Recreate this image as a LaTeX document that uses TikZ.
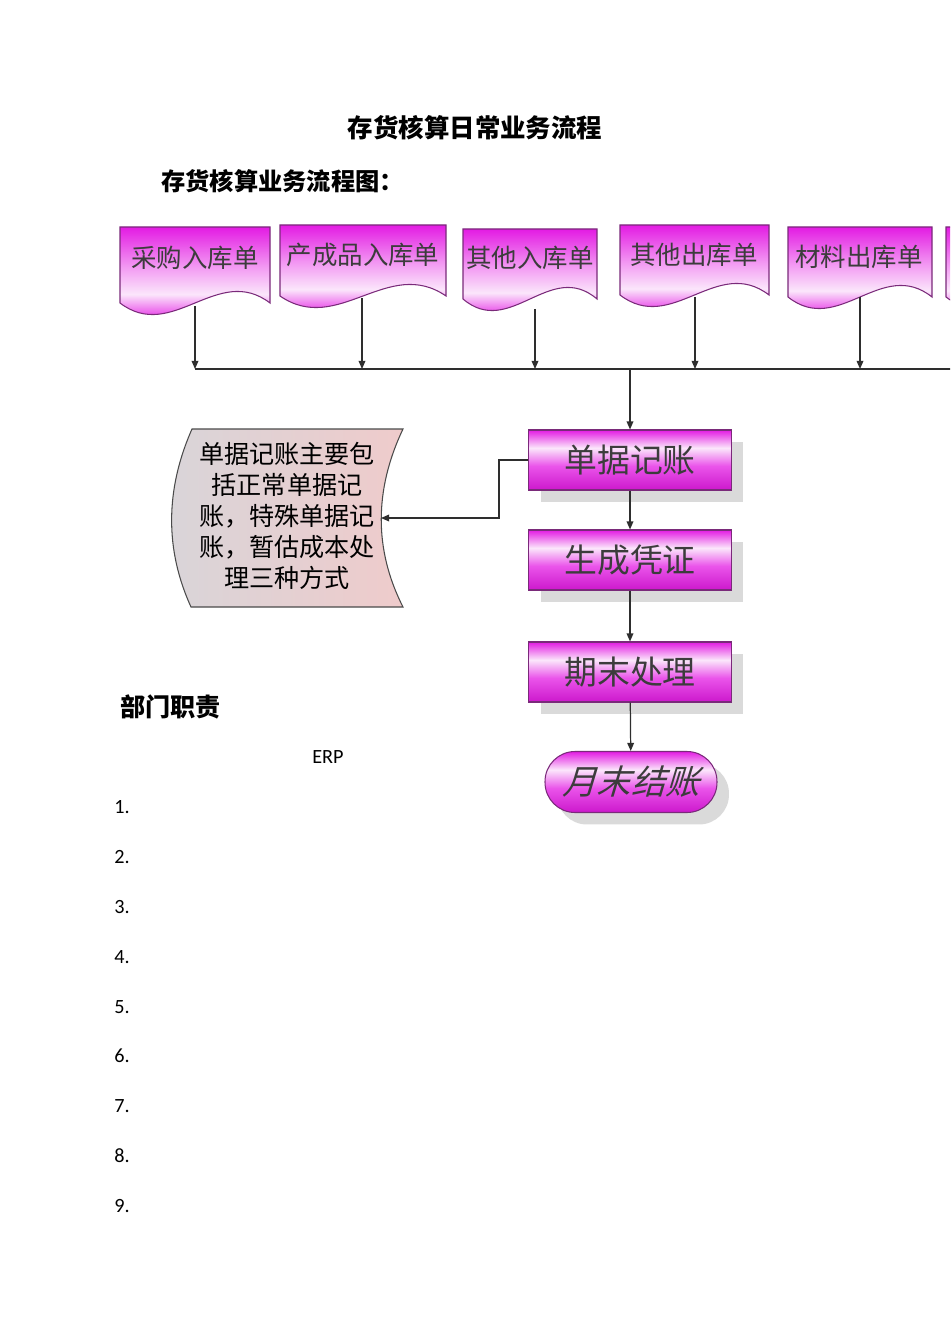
\documentclass[tikz,border=0pt]{standalone}
\usepackage{fontspec}
\setmainfont{Carlito}
\newfontfamily\cjk{Noto Sans CJK SC}
\newfontfamily\cjkit[FakeSlant=0.3]{Noto Sans CJK SC}
\usetikzlibrary{positioning,arrows.meta,shadows}
\definecolor{BoxMag}{HTML}{E31BE3}
\definecolor{BoxPale}{HTML}{FBE6FB}
\definecolor{BoxEdge}{HTML}{7A2A7A}
\definecolor{BoxText}{HTML}{3C3C3C}
\definecolor{ShadowGray}{HTML}{DADADA}
\definecolor{LineGray}{HTML}{2E2E2E}
\definecolor{NoteBlue}{HTML}{C6DDE4}
\definecolor{NotePink}{HTML}{EFCBCB}
\definecolor{NoteEdge}{HTML}{4A4A4A}
\pgfdeclareverticalshading{docfill}{100bp}{color(0bp)=(BoxMag); color(25bp)=(BoxMag);
  color(38bp)=(BoxMag!70!white); color(46bp)=(BoxPale); color(58bp)=(BoxMag!45!white);
  color(75bp)=(BoxMag); color(100bp)=(BoxMag)}
\pgfdeclareverticalshading{procfill}{100bp}{color(0bp)=(BoxMag); color(25bp)=(BoxMag!90!black);
  color(45bp)=(BoxMag!75!white); color(60bp)=(BoxPale); color(75bp)=(BoxMag); color(100bp)=(BoxMag)}
% document shape: left, right, top, bottom of the sides
\newcommand\docshape[4]{\draw[doc] (#1,#3) -- (#2,#3) -- (#2,#4)
  .. controls ({#1+0.65*(#2-#1)},{#4-40}) and ({#1+0.35*(#2-#1)},{#4+40}) .. (#1,#4) -- cycle;}

\begin{document}
\begin{tikzpicture}[x=0.02cm,y=-0.02cm,
      doc/.style={draw=BoxEdge,line width=0.6pt,shading=docfill},
      doctext/.style={font=\cjk\fontsize{14.5}{16}\selectfont,text=BoxText,inner sep=0pt},
      proc/.style={draw=BoxEdge,line width=0.6pt,shading=procfill,minimum width=4.06cm,
                   minimum height=1.2cm,font=\cjk\fontsize{18.7}{20}\selectfont,text=BoxText,
                   drop shadow={shadow xshift=0.24cm,shadow yshift=-0.24cm,fill=ShadowGray,opacity=1}},
      term/.style={proc,rounded corners=0.6cm,minimum width=3.44cm,minimum height=1.22cm,
                   font=\cjkit\fontsize{19.4}{21}\selectfont},
      heading/.style={font=\cjk\bfseries\fontsize{#1}{#1}\selectfont,inner sep=0pt},
      plain/.style={font=\fontsize{11.5}{13}\selectfont,inner sep=0pt},
      go/.style={-{Triangle[length=4.6pt,width=3.8pt]},LineGray,line width=0.7pt}]
    \useasboundingbox (0,0) rectangle (950,1344);
    \clip (0,0) rectangle (950,1344);

    \node[heading=14.5] (ttl) at (475,128) {存货核算日常业务流程};
    \node[heading=13.8,anchor=west] (sub) at (161,181) {存货核算业务流程图：};

    % source documents
    \docshape{120}{270}{227}{303}
    \docshape{280}{446}{225}{296}
    \docshape{463}{597}{229}{299}
    \docshape{620}{769}{225}{295}
    \docshape{788}{932}{227}{297}
    \docshape{946}{1096}{227}{297}
    \node[doctext] (cgrk)  at (195,258) {采购入库单};
    \node[doctext] (ccprk) at (363,255) {产成品入库单};
    \node[doctext] (qtrk)  at (530,258) {其他入库单};
    \node[doctext] (qtck)  at (694,255) {其他出库单};
    \node[doctext] (clck)  at (859,257) {材料出库单};

    \coordinate (cgrk-out)  at (195,306); \coordinate (cgrk-in)  at (195,369);
    \coordinate (ccprk-out) at (362,298); \coordinate (ccprk-in) at (362,369);
    \coordinate (qtrk-out)  at (535,309); \coordinate (qtrk-in)  at (535,369);
    \coordinate (qtck-out)  at (695,297); \coordinate (qtck-in)  at (695,369);
    \coordinate (clck-out)  at (860,297); \coordinate (clck-in)  at (860,369);
    \coordinate (busend) at (960,369);
    \coordinate (busdrop) at (630,369);

    \draw[go] (cgrk-out) -- (cgrk-in);   \draw[go] (ccprk-out) -- (ccprk-in);
    \draw[go] (qtrk-out) -- (qtrk-in);   \draw[go] (qtck-out) -- (qtck-in);
    \draw[go] (clck-out) -- (clck-in);
    \draw[LineGray,line width=0.7pt] (cgrk-in) -- (busend);

    % main flow
    \node[proc] (sjjz) at (630,460) {单据记账};
    \node[proc] (scpz) at (630,560) {生成凭证};
    \node[proc] (qmcl) at (630,672) {期末处理};
    \node[term] (ymjz) at (631,782) {月末结账};
    \draw[go] (busdrop) -- (sjjz);
    \draw[go] (sjjz) -- (scpz); \draw[go] (scpz) -- (qmcl);
    \draw[go] (qmcl) -- (ymjz);

    % note on posting
    \draw[NoteEdge,line width=0.6pt,left color=NoteBlue!55!NotePink,right color=NotePink]
      (192,429) -- (403,429) .. controls (374,490) and (374,550) .. (403,607)
      -- (191,607) .. controls (165,550) and (165,490) .. (192,429) -- cycle;
    \node[font=\cjk\fontsize{14.3}{17.6}\selectfont,align=center,inner sep=0pt] (note) at (287,516)
      {单据记账主要包\\括正常单据记\\账，特殊单据记\\账，暂估成本处\\理三种方式};
    \coordinate (note-in) at (381,518);
    \draw[go] (sjjz.west) -- (499,460) |- (note-in);

    % duties
    \node[heading=14.3,anchor=west] (bmzz) at (120,707) {部门职责};
    \node[plain] (erp) at (328,757) {ERP};
    \node[plain,anchor=west] (n1) at (114,807)  {1.};
    \node[plain,anchor=west] (n2) at (114,857)  {2.};
    \node[plain,anchor=west] (n3) at (114,907)  {3.};
    \node[plain,anchor=west] (n4) at (114,957)  {4.};
    \node[plain,anchor=west] (n5) at (114,1007) {5.};
    \node[plain,anchor=west] (n6) at (114,1056) {6.};
    \node[plain,anchor=west] (n7) at (114,1106) {7.};
    \node[plain,anchor=west] (n8) at (114,1156) {8.};
    \node[plain,anchor=west] (n9) at (114,1206) {9.};
  \end{tikzpicture}
\end{document}
